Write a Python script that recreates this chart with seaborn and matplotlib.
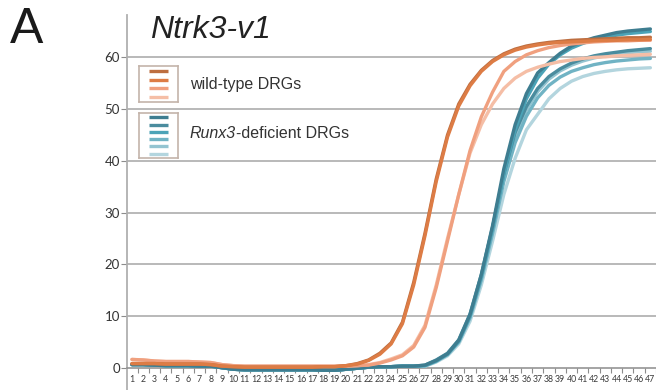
import numpy as np
import pandas as pd
import matplotlib
matplotlib.use("Agg")
import matplotlib.pyplot as plt
import seaborn as sns

cycles = list(range(1, 48))

# baselines (cycles before take-off), shared inside each group
wt_dark_base = [0.8, 0.8, 0.8, 0.7, 0.7, 0.7, 0.7, 0.6, 0.3, 0.2,
                0.1, 0.1, 0.1, 0.1, 0.1, 0.1, 0.1, 0.2, 0.2, 0.4]          # cycles 1-20
wt_light_base = [1.6, 1.5, 1.3, 1.2, 1.2, 1.2, 1.1, 1.0, 0.6, 0.4,
                 0.3, 0.3, 0.3, 0.3, 0.3, 0.3, 0.3, 0.3, 0.3, 0.3, 0.4]    # cycles 1-21
ko_base = [0.6, 0.6, 0.5, 0.4, 0.4, 0.4, 0.3, 0.3, 0.0, -0.3,
           -0.4, -0.4, -0.4, -0.4, -0.4, -0.4, -0.4, -0.5, -0.5, -0.3,
           -0.1, 0.1, 0.2, 0.2, 0.3, 0.3]                                   # cycles 1-26

# amplification part
wt1 = [0.8, 1.5, 2.8, 4.8, 8.8, 16.5, 26.0, 36.5, 45.0, 51.0, 54.8, 57.5, 59.4,
       60.7, 61.6, 62.2, 62.6, 62.9, 63.1, 63.3, 63.4, 63.5, 63.6, 63.7, 63.8, 63.8, 63.9]   # 21-47
wt2 = [0.7, 1.4, 2.6, 4.6, 8.5, 16.0, 25.5, 36.0, 44.6, 50.6, 54.5, 57.3, 59.2,
       60.5, 61.4, 62.0, 62.4, 62.7, 62.9, 63.0, 63.1, 63.2, 63.3, 63.3, 63.4, 63.4, 63.5]
wt3 = [0.5, 0.9, 1.5, 2.3, 4.0, 7.8, 15.5, 24.5, 33.5, 42.0, 48.5, 53.3, 57.3,
       59.2, 60.5, 61.3, 61.9, 62.3, 62.6, 62.8, 63.0, 63.1, 63.2, 63.2, 63.3, 63.3]         # 22-47
wt4 = [0.6, 1.0, 1.7, 2.5, 4.3, 8.2, 16.0, 25.0, 33.5, 41.5, 47.0, 51.0, 54.0,
       56.0, 57.3, 58.1, 58.7, 59.2, 59.5, 59.8, 60.0, 60.1, 60.3, 60.4, 60.5, 60.6]
ko1 = [0.5, 1.4, 2.7, 5.3, 10.3, 18.0, 27.5, 38.5, 47.0, 53.0, 57.0, 59.0, 60.8,
       62.2, 63.1, 63.8, 64.3, 64.8, 65.1, 65.3, 65.5]                                         # 27-47
ko2 = [0.5, 1.5, 2.8, 5.4, 10.4, 18.0, 27.2, 37.5, 45.5, 50.5, 54.0, 56.3, 57.8,
       58.9, 59.7, 60.3, 60.7, 61.0, 61.3, 61.5, 61.7]
ko3 = [0.4, 1.3, 2.6, 5.1, 10.0, 17.6, 27.0, 37.6, 46.0, 52.0, 56.0, 58.7, 60.5,
       61.8, 62.7, 63.4, 63.9, 64.3, 64.6, 64.8, 65.0]
ko4 = [0.4, 1.3, 2.6, 5.0, 9.7, 17.0, 26.0, 36.0, 43.5, 48.6, 52.2, 54.6, 56.2,
       57.3, 58.0, 58.6, 59.0, 59.3, 59.5, 59.7, 59.8]
ko5 = [0.3, 1.2, 2.5, 5.0, 9.8, 17.2, 26.5, 36.8, 44.5, 49.8, 53.4, 55.8, 57.4,
       58.5, 59.3, 59.9, 60.3, 60.6, 60.9, 61.1, 61.2]
ko6 = [0.3, 1.1, 2.3, 4.6, 9.0, 16.0, 24.5, 33.5, 40.5, 46.0, 49.0, 52.0, 54.0,
       55.4, 56.3, 56.9, 57.3, 57.6, 57.8, 57.9, 58.0]

wt_colors = ["#bd6e40", "#dd7c45", "#f0a07f", "#f5bea6"]
ko_colors = ["#3e7d90", "#4a8c9e", "#4ba3b7", "#70b3c4", "#93c4d1", "#b3d5de"]

curves = {
    "wt1": wt_dark_base + wt1, "wt2": wt_dark_base + wt2,
    "wt3": wt_light_base + wt3, "wt4": wt_light_base + wt4,
    "ko1": ko_base + ko1, "ko2": ko_base + ko2, "ko3": ko_base + ko3,
    "ko4": ko_base + ko4, "ko5": ko_base + ko5, "ko6": ko_base + ko6,
}
palette = dict(zip(["wt1", "wt2", "wt3", "wt4"], wt_colors))
palette.update(zip(["ko1", "ko2", "ko3", "ko4", "ko5", "ko6"], ko_colors))

rows = []
for name, vals in curves.items():
    for c, v in zip(cycles, vals):
        rows.append((name, c, v))
df = pd.DataFrame(rows, columns=["curve", "cycle", "value"])

sns.set_style("white")
plt.rcParams["font.family"] = ["Liberation Sans", "DejaVu Sans"]

fig = plt.figure(figsize=(6.56, 3.90), dpi=100)
ax = fig.add_axes([127 / 656, 0, 529 / 656, 375 / 390])

sns.lineplot(data=df, x="cycle", y="value", hue="curve", palette=palette,
             hue_order=["ko6", "ko5", "ko4", "ko2", "ko3", "ko1", "wt4", "wt3", "wt1", "wt2"],
             linewidth=2.4, legend=False, ax=ax, zorder=3)

ax.set_xlim(0.56, 47.17)
ax.set_ylim(-4.31, 68.2)
for g in range(10, 70, 10):
    ax.axhline(g, color="#a6a6a6", lw=1.1, zorder=1)

for s in ["top", "right"]:
    ax.spines[s].set_visible(False)
ax.spines["left"].set_color("#b0b0b0")
ax.spines["left"].set_linewidth(1.3)
ax.spines["bottom"].set_position(("data", 0))
ax.spines["bottom"].set_color("#8c8c8c")
ax.spines["bottom"].set_linewidth(1.1)

ax.set_yticks(range(0, 70, 10))
ax.set_yticklabels([str(v) for v in range(0, 70, 10)], fontname="Lato", fontsize=9.5, color="#333333")
ax.tick_params(axis="y", length=4, width=0.8, color="#8c8c8c", pad=1, direction="out", left=True)

ax.set_xticks(cycles)
ax.set_xticklabels([str(c) for c in cycles], fontname="Lato", fontsize=6.3, color="#3a3a3a")
ax.set_xticks([c + 0.5 for c in cycles], minor=True)
ax.tick_params(axis="x", which="major", length=0, pad=5)
ax.tick_params(axis="x", which="minor", length=3.5, width=0.8, color="#8c8c8c",
               direction="out", bottom=True)
ax.set_xlabel("")
ax.set_ylabel("")

fig.text(10 / 656, 1 - 30 / 390, "A", fontsize=36, va="center", ha="left", color="#1a1a1a")
fig.text(150 / 656, 1 - 30 / 390, "Ntrk3-v1", fontsize=23, style="italic", va="center",
         ha="left", color="#222222")

# legend boxes, drawn as small axes
def legend_box(y_top, y_bot, colors):
    lax = fig.add_axes([139 / 656, 1 - y_bot / 390, 39 / 656, (y_bot - y_top) / 390])
    lax.set_xlim(0, 1)
    lax.set_ylim(len(colors) + 0.1, -0.1)
    for i, col in enumerate(colors):
        lax.hlines(i + 0.5, 0.25, 0.75, color=col, lw=2.4)
    lax.set_xticks([])
    lax.set_yticks([])
    for sp in lax.spines.values():
        sp.set_color("#c4b4aa")
        sp.set_linewidth(1.2)
    lax.set_facecolor("white")

legend_box(66, 102, wt_colors)
legend_box(113, 158, ko_colors)
fig.text(190 / 656, 1 - 84 / 390, "wild-type DRGs", fontsize=11.5, va="center", color="#333333")
t1 = fig.text(190 / 656, 1 - 133 / 390, "Runx3", fontsize=11.5, style="italic",
              va="center", color="#333333")
fig.canvas.draw()
bb = t1.get_window_extent(renderer=fig.canvas.get_renderer())
fig.text(bb.x1 / fig.bbox.width, 1 - 133 / 390, "-deficient DRGs", fontsize=11.5,
         va="center", color="#333333")

fig.savefig("out.png", dpi=100)
